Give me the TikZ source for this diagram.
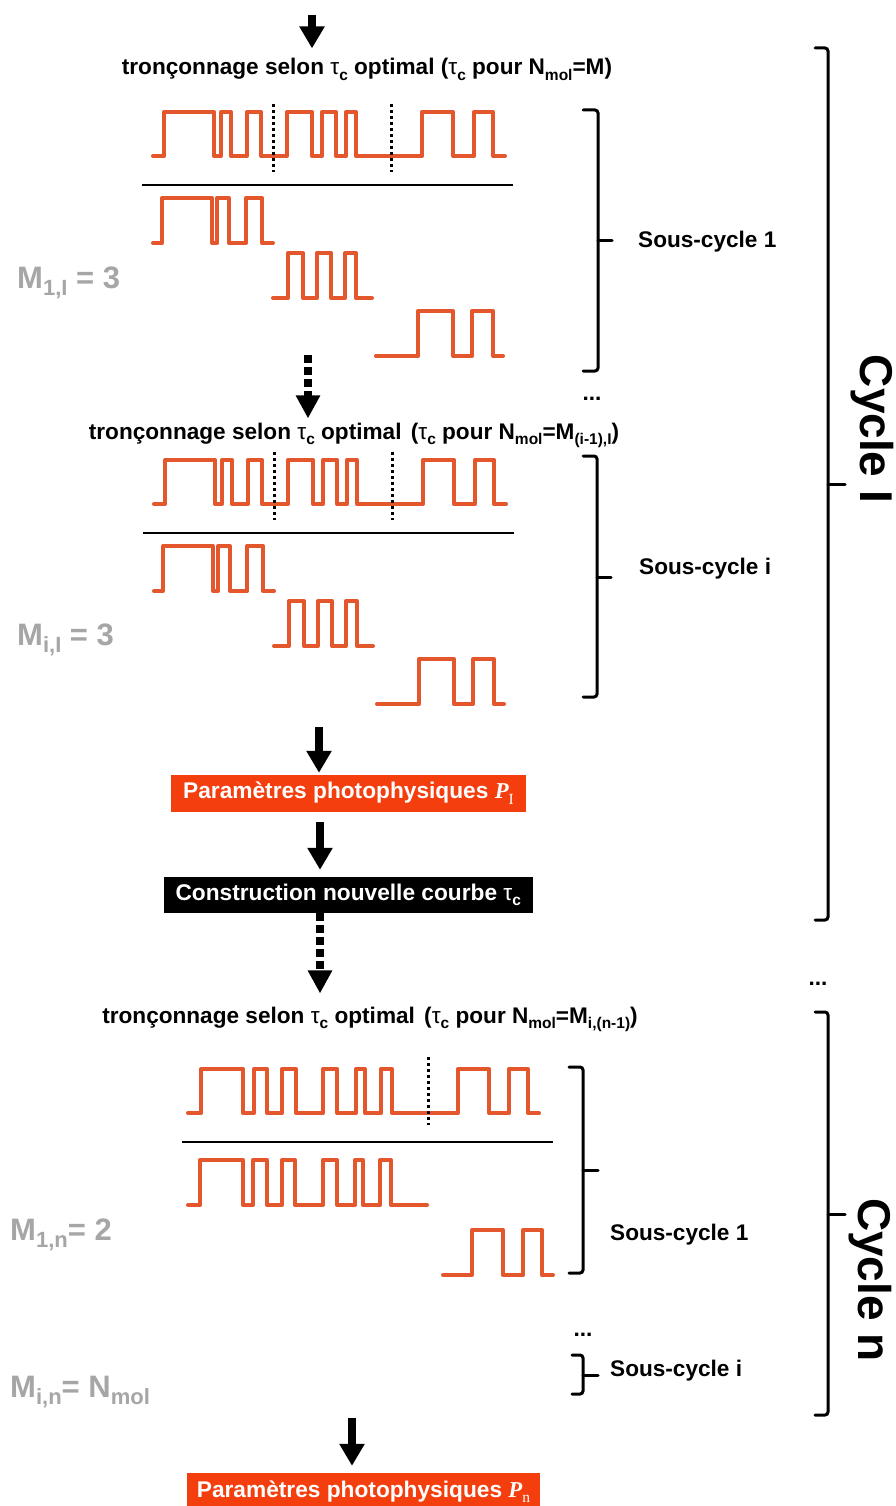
\documentclass[tikz,border=0pt]{standalone}
\usepackage{fontspec}
\setmainfont{Liberation Sans}
\newfontfamily\seriffam{Liberation Serif}
\usetikzlibrary{arrows.meta}
\definecolor{trc}{RGB}{228,86,44}
\definecolor{boxorange}{RGB}{244,62,14}
\definecolor{lbl}{RGB}{166,166,166}
\newcommand\sbs[1]{\raisebox{-0.25em}{\fontsize{15.5}{15.5}\selectfont #1}}
\newcommand\sbg[1]{\raisebox{-0.25em}{\fontsize{22}{22}\selectfont #1}}
\newcommand\tauc{{\mdseries τ}\sbs{c}}
\newcommand\Pit[1]{{\seriffam\itshape P}\raisebox{-0.25em}{\seriffam\mdseries\fontsize{15.5}{15.5}\selectfont #1}}
\newcommand\rbrk[6]{%
  \draw[brk] (#1,#3) -- (#2,#3) -- (#2,#4) -- (#1,#4);
  \draw[brk] (#2,#5) -- (#6,#5);}
\newcommand\traceOne{%
  \draw[trace] (153,156) -| (164,112) -| (214,156) -| (221,112) -| (231,156) -| (247,112) -| (261,156)
     -| (287,112) -| (312,156) -| (322,112) -| (336,156) -| (346,112) -| (356,156)
     -| (422,112) -| (453,156) -| (474,112) -| (493,156) -- (505,156);
  \draw[vdot] (273,104) -- (273,172);
  \draw[vdot] (391,104) -- (391,172);
  \draw[sep] (142,185) -- (513,185);
  \draw[trace] (153,243) -| (162,198) -| (212,243) -| (217,198) -| (229,243) -| (246,198) -| (262,243) -- (273,243);
  \draw[trace] (273,298) -| (288,253) -| (303,298) -| (317,253) -| (331,298) -| (345,253) -| (356,298) -- (372,298);
  \draw[trace] (376,356) -| (418,311) -| (453,356) -| (472,311) -| (493,356) -- (503,356);}
\begin{document}
\begin{tikzpicture}[x=1pt,y=-1pt,
  trace/.style={draw=trc, line width=4pt, line join=round, line cap=round},
  sep/.style={line width=2pt},
  vdot/.style={line width=3pt, dash pattern=on 3pt off 3pt},
  brk/.style={line width=3pt, rounded corners=3pt, line cap=round},
  title/.style={font=\fontsize{22.6}{25}\selectfont\bfseries, inner sep=0pt, anchor=base},
  sublabel/.style={font=\fontsize{22.6}{25}\selectfont\bfseries, inner sep=0pt, anchor=west},
  glabel/.style={font=\fontsize{31}{34}\selectfont\bfseries, text=lbl, inner sep=0pt, anchor=base west},
  cyclelabel/.style={font=\fontsize{46}{50}\selectfont\bfseries, inner sep=0pt, anchor=base, rotate=-90},
  orangebox/.style={fill=boxorange, text=white, font=\fontsize{22.7}{25}\selectfont\bfseries, inner sep=0pt},
  blackbox/.style={fill=black, text=white, font=\fontsize{22.7}{25}\selectfont\bfseries, inner sep=0pt},
  arr/.style={line width=8pt, -{Triangle[length=22pt,width=24pt]}},
  darr/.style={line width=8pt, dash pattern=on 8pt off 4pt, -{Triangle[length=23pt,width=23pt]}}]
\clip (0,0) rectangle (896,1506);
\fill[white] (0,0) rectangle (896,1506);

% ---------- titles
\node[title] (t1) at (367,75) {tronçonnage selon \tauc\ optimal (\tauc\ pour N\sbs{mol}=M)};
\node[title] (t2) at (354,439) {tronçonnage selon \tauc\ optimal\hspace{3pt} (\tauc\ pour N\sbs{mol}=M\sbs{(i-1),I})};
\node[title] (t3) at (370,1023) {tronçonnage selon \tauc\ optimal\hspace{3pt} (\tauc\ pour N\sbs{mol}=M\sbs{i,(n-1)})};

% ---------- traces cycle I
\traceOne
\begin{scope}[shift={(1,348)}]
\traceOne
\end{scope}

% ---------- traces cycle n
\draw[trace] (188,1113) -| (201,1069) -| (243,1113) -| (254,1069) -| (267,1113) -| (282,1069) -| (296,1113)
   -| (323,1069) -| (337,1113) -| (356,1069) -| (365,1113) -| (381,1069) -| (392,1113)
   -| (458,1069) -| (489,1113) -| (509,1069) -| (528,1113) -- (539,1113);
\draw[vdot] (428,1057) -- (428,1125);
\draw[sep] (182,1142) -- (553,1142);
\draw[trace] (188,1205) -| (200,1160) -| (243,1205) -| (253,1160) -| (267,1205) -| (282,1160) -| (295,1205)
   -| (323,1160) -| (337,1205) -| (355,1160) -| (363,1205) -| (380,1160) -| (391,1205) -- (427,1205);
\draw[trace] (443,1275) -| (472,1230) -| (503,1275) -| (523,1230) -| (542,1275) -- (553,1275);

% ---------- brackets
\rbrk{583}{598}{110}{371}{241}{612}
\rbrk{583}{597}{456}{697}{577}{611}
\rbrk{815}{828}{48}{920}{484}{845}
\rbrk{815}{828}{1012}{1415}{1214}{845}
\rbrk{569}{583}{1067}{1273}{1170}{598}
\rbrk{572}{583}{1355}{1394}{1375}{598}

% ---------- labels
\node[sublabel] (s1) at (638,242) {Sous-cycle 1};
\node[sublabel] (s2) at (639,569) {Sous-cycle i};
\node[sublabel] (s3) at (610,1235) {Sous-cycle 1};
\node[sublabel] (s4) at (610,1371) {Sous-cycle i};
\node[title] (e1) at (592,400) {...};
\node[title] (e2) at (818,985) {...};
\node[title] (e3) at (583,1336) {...};
\node[glabel] (g1) at (17,288) {M\sbg{1,I} = 3};
\node[glabel] (g2) at (17,645) {M\sbg{i,I} = 3};
\node[glabel] (g3) at (10,1240) {M\sbg{1,n}= 2};
\node[glabel] (g4) at (10,1397) {M\sbg{i,n}= N\sbg{mol}};
\node[cyclelabel] (c1) at (860,429) {Cycle I};
\node[cyclelabel] (c2) at (858,1280) {Cycle n};

% ---------- boxes
\node[orangebox, minimum width=355pt, minimum height=37pt] (b1) at (348.5,793.5) {Paramètres photophysiques \Pit{I}};
\node[blackbox, minimum width=369pt, minimum height=36pt] (b2) at (348.3,895) {Construction nouvelle courbe \tauc};
\node[orangebox, minimum width=353pt, minimum height=37pt] (b3) at (363.5,1491.5) {Paramètres photophysiques \Pit{n}};

% ---------- arrows
\coordinate (a0) at (312,15);
\coordinate (a1) at (308,355);
\coordinate (a2) at (319,727);
\coordinate (a3) at (320,0);
\coordinate (a5) at (352,1418);
\draw[arr, shorten >=10pt] (a0) -- (a0 |- t1.north);
\draw[darr, shorten >=4pt] (a1) -- (a1 |- t2.north);
\draw[arr, shorten >=2pt] (a2) -- (a2 |- b1.north);
\draw[arr, shorten <=10pt, shorten >=7pt] (a3 |- b1.south) -- (a3 |- b2.north);
\draw[darr, shorten >=13pt] (a3 |- b2.south) -- (a3 |- t3.north);
\draw[arr, shorten >=7pt] (a5) -- (a5 |- b3.north);
\end{tikzpicture}
\end{document}
